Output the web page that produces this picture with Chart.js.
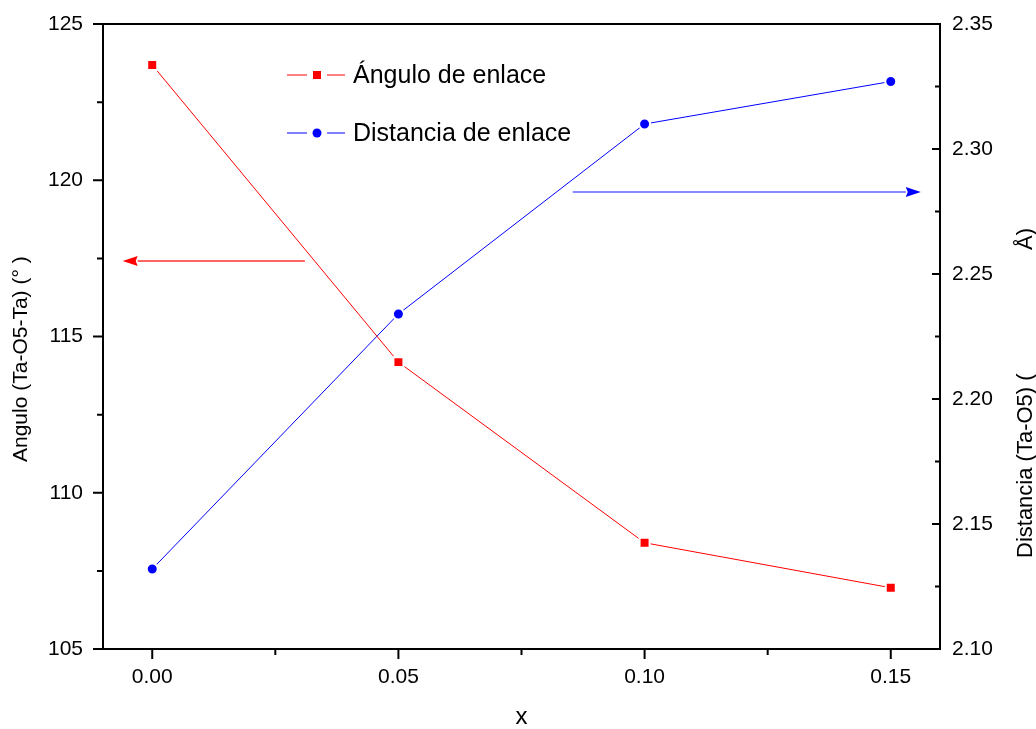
<!DOCTYPE html>
<html>
<head>
<meta charset="utf-8">
<script src="https://cdn.jsdelivr.net/npm/chart.js@4.4.0/dist/chart.umd.min.js"></script>
<style>
  html, body { margin: 0; padding: 0; background: #fff; }
  #wrap { width: 1036px; height: 729px; position: relative; }
</style>
</head>
<body>
<div id="wrap"><canvas id="bondChart"></canvas></div>
<script>
// Ta-O5-Ta bond angle (left axis) and Ta-O5 bond distance (right axis) against x

const xValues = [0.00, 0.05, 0.10, 0.15];
const angleValues = [123.69, 114.18, 108.40, 106.96];   // degrees
const distanceValues = [2.132, 2.234, 2.310, 2.327];    // angstrom

const xTicks = [0.00, 0.05, 0.10, 0.15];
const xMinorTicks = [0.025, 0.075, 0.125];
const angleTicks = [105, 110, 115, 120, 125];
const angleMinorTicks = [107.5, 112.5, 117.5, 122.5];
const distTicks = [2.10, 2.15, 2.20, 2.25, 2.30, 2.35];
const distMinorTicks = [2.125, 2.175, 2.225, 2.275, 2.325];

const seriesNames = ['Ángulo de enlace', 'Distancia de enlace'];
const xTitle = 'x';
const angleTitle = 'Angulo (Ta-O5-Ta) (° )';
const distTitle = ['Distancia (Ta-O5) (', 'Å)'];

// arrows telling which axis each curve belongs to (data units)
const angleArrow = { from: 0.031, to: -0.006, y: 117.42 };
const distArrow = { from: 0.0854, to: 0.1561, y: 2.283 };

const RED = '#ff0000';
const BLUE = '#0000ff';
const FONT = '"Liberation Sans", Arial, Helvetica, sans-serif';

function drawArrow(ctx, x1, x2, y, lineColor, headColor){
  const dir = Math.sign(x2 - x1);
  const head = 15, half = 5;
  ctx.strokeStyle = lineColor;
  ctx.lineWidth = 1.5;
  ctx.beginPath();
  ctx.moveTo(x1, y);
  ctx.lineTo(x2 - dir * head, y);
  ctx.stroke();
  ctx.fillStyle = headColor;
  ctx.beginPath();
  ctx.moveTo(x2, y);
  ctx.lineTo(x2 - dir * head, y - half);
  ctx.lineTo(x2 - dir * (head - 2), y);
  ctx.lineTo(x2 - dir * head, y + half);
  ctx.closePath();
  ctx.fill();
}

function legendRow(ctx, x0, y, color, style, text){
  ctx.strokeStyle = color;
  ctx.lineWidth = 1;
  ctx.beginPath();
  ctx.moveTo(x0, y); ctx.lineTo(x0 + 20, y);
  ctx.moveTo(x0 + 40, y); ctx.lineTo(x0 + 58, y);
  ctx.stroke();
  ctx.fillStyle = color;
  if (style === 'rect'){
    ctx.fillRect(x0 + 26, y - 4, 8, 8);
  } else {
    ctx.beginPath();
    ctx.arc(x0 + 30, y, 4.5, 0, Math.PI * 2);
    ctx.fill();
  }
  ctx.fillStyle = '#000';
  ctx.font = `25px ${FONT}`;
  ctx.textAlign = 'left';
  ctx.textBaseline = 'middle';
  ctx.fillText(text, x0 + 66, y + 1);
}

const decorations = {
  id: 'decorations',
  afterDraw(chart){
    const {ctx, chartArea: a, scales} = chart;
    const sx = scales.x, yl = scales.y, yr = scales.y2;
    ctx.save();

    // frame and tick marks
    ctx.strokeStyle = '#000';
    ctx.lineWidth = 2;
    ctx.beginPath();
    ctx.rect(a.left, a.top, a.right - a.left, a.bottom - a.top);
    ctx.stroke();
    ctx.beginPath();
    const mark = (x1, y1, x2, y2) => { ctx.moveTo(x1, y1); ctx.lineTo(x2, y2); };
    xTicks.forEach(v => { const p = sx.getPixelForValue(v); mark(p, a.bottom, p, a.bottom + 10); });
    xMinorTicks.forEach(v => { const p = sx.getPixelForValue(v); mark(p, a.bottom, p, a.bottom + 6); });
    angleTicks.forEach(v => { const p = yl.getPixelForValue(v); mark(a.left - 10, p, a.left, p); });
    angleMinorTicks.forEach(v => { const p = yl.getPixelForValue(v); mark(a.left - 6, p, a.left, p); });
    distTicks.forEach(v => { const p = yr.getPixelForValue(v); mark(a.right - 8, p, a.right, p); });
    distMinorTicks.forEach(v => { const p = yr.getPixelForValue(v); mark(a.right - 5, p, a.right, p); });
    ctx.stroke();

    // arrows
    drawArrow(ctx, sx.getPixelForValue(angleArrow.from), sx.getPixelForValue(angleArrow.to),
      Math.round(yl.getPixelForValue(angleArrow.y)), '#ff3030', RED);
    drawArrow(ctx, sx.getPixelForValue(distArrow.from), sx.getPixelForValue(distArrow.to),
      Math.round(yr.getPixelForValue(distArrow.y)), '#6060ff', BLUE);

    // legend
    const lx = a.left + 184;
    legendRow(ctx, lx, a.top + 51, RED, 'rect', seriesNames[0]);
    legendRow(ctx, lx, a.top + 109, BLUE, 'circle', seriesNames[1]);

    // axis titles
    ctx.fillStyle = '#000';
    ctx.textBaseline = 'middle';
    ctx.font = `24px ${FONT}`;
    ctx.textAlign = 'center';
    ctx.fillText(xTitle, (a.left + a.right) / 2, a.bottom + 68);

    ctx.font = `21px ${FONT}`;
    ctx.save();
    ctx.translate(21, 462);
    ctx.rotate(-Math.PI / 2);
    ctx.textAlign = 'left';
    ctx.fillText(angleTitle, 0, 0);
    ctx.restore();

    ctx.font = `22px ${FONT}`;
    ctx.save();
    ctx.translate(chart.width - 10, 558);
    ctx.rotate(-Math.PI / 2);
    ctx.textAlign = 'left';
    ctx.fillText(distTitle[0], 0, 0);
    ctx.restore();
    ctx.save();
    ctx.translate(chart.width - 10, 228);
    ctx.rotate(-Math.PI / 2);
    ctx.textAlign = 'right';
    ctx.fillText(distTitle[1], 0, 0);
    ctx.restore();

    ctx.restore();
  }
};

const tickFont = { family: FONT, size: 21 };

// fixed axis box sizes so the plot frame lands where it should
function fitBox(size){
  return s => {
    if (s.isHorizontal()) s.height = size; else s.width = size;
    s.paddingTop = 0; s.paddingBottom = 0; s.paddingLeft = 0; s.paddingRight = 0;
  };
}

new Chart(document.getElementById('bondChart'), {
  type: 'line',
  data: {
    datasets: [
      {
        label: seriesNames[0],
        data: xValues.map((x, i) => ({ x, y: angleValues[i] })),
        yAxisID: 'y',
        borderColor: RED,
        borderWidth: 1,
        pointStyle: 'rect',
        pointRadius: 7.07,
        pointBackgroundColor: RED,
        pointBorderColor: '#fff',
        pointBorderWidth: 2,
        tension: 0
      },
      {
        label: seriesNames[1],
        data: xValues.map((x, i) => ({ x, y: distanceValues[i] })),
        yAxisID: 'y2',
        borderColor: BLUE,
        borderWidth: 1,
        pointStyle: 'circle',
        pointRadius: 5.5,
        pointBackgroundColor: BLUE,
        pointBorderColor: '#fff',
        pointBorderWidth: 2,
        tension: 0
      }
    ]
  },
  options: {
    responsive: true,
    maintainAspectRatio: false,
    animation: false,
    events: [],
    layout: { autoPadding: false, padding: { top: 24, left: 0, right: 0, bottom: 0 } },
    plugins: { legend: { display: false }, tooltip: { enabled: false } },
    scales: {
      x: {
        type: 'linear',
        min: -0.01,
        max: 0.16,
        grid: { display: false, drawTicks: false },
        border: { display: false },
        afterBuildTicks: s => { s.ticks = xTicks.map(v => ({ value: v })); },
        ticks: { callback: v => v.toFixed(2), font: tickFont, color: '#000', padding: 16, maxRotation: 0, autoSkip: false },
        afterFit: fitBox(80)
      },
      y: {
        position: 'left',
        min: 105,
        max: 125,
        grid: { display: false, drawTicks: false },
        border: { display: false },
        afterBuildTicks: s => { s.ticks = angleTicks.map(v => ({ value: v })); },
        ticks: { callback: v => String(v), font: tickFont, color: '#000', padding: 20 },
        afterFit: fitBox(103)
      },
      y2: {
        position: 'right',
        min: 2.10,
        max: 2.35,
        grid: { display: false, drawTicks: false },
        border: { display: false },
        afterBuildTicks: s => { s.ticks = distTicks.map(v => ({ value: v })); },
        ticks: { callback: v => v.toFixed(2), font: tickFont, color: '#000', padding: 12 },
        afterFit: fitBox(96)
      }
    }
  },
  plugins: [decorations]
});
</script>
</body>
</html>
